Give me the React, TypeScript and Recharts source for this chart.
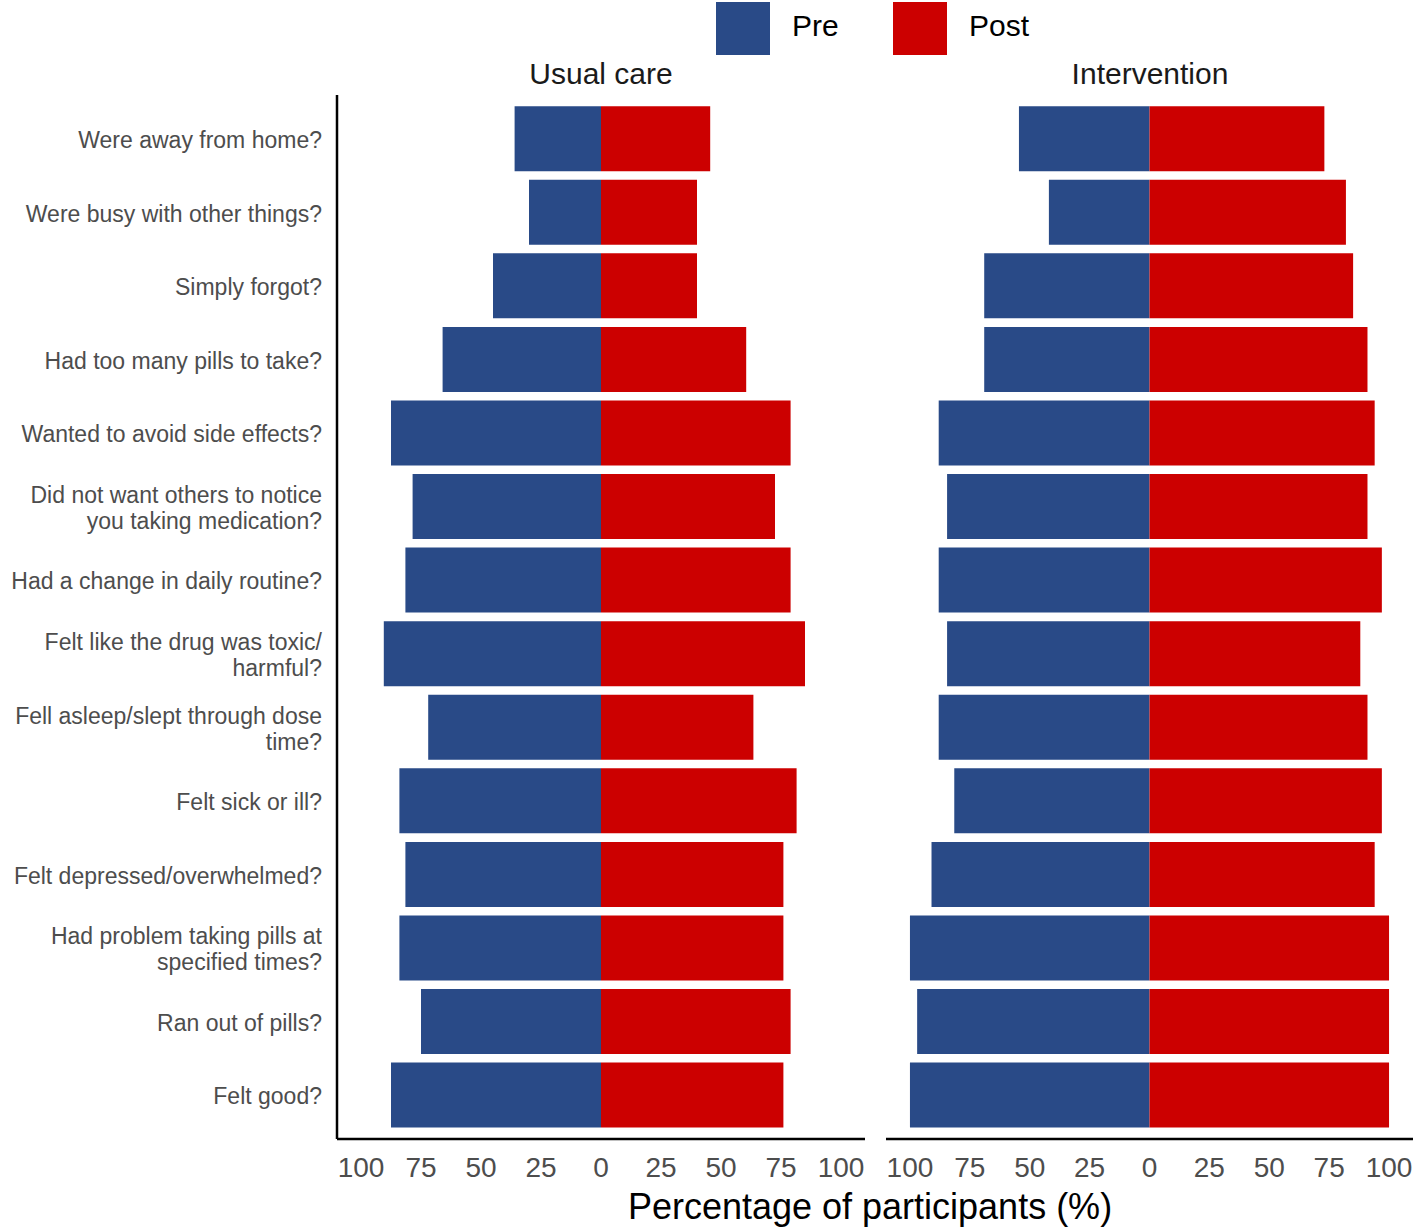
import React from 'react';
import { BarChart, Bar, XAxis, YAxis } from 'recharts';

const categories = [
  'Were away from home?',
  'Were busy with other things?',
  'Simply forgot?',
  'Had too many pills to take?',
  'Wanted to avoid side effects?',
  'Did not want others to notice\nyou taking medication?',
  'Had a change in daily routine?',
  'Felt like the drug was toxic/\nharmful?',
  'Fell asleep/slept through dose\ntime?',
  'Felt sick or ill?',
  'Felt depressed/overwhelmed?',
  'Had problem taking pills at\nspecified times?',
  'Ran out of pills?',
  'Felt good?',
];

const usualPre = [36, 30, 45, 66, 87.5, 78.5, 81.5, 90.5, 72, 84, 81.5, 84, 75, 87.5];
const usualPost = [45.5, 40, 40, 60.5, 79, 72.5, 79, 85, 63.5, 81.5, 76, 76, 79, 76];
const intPre = [54.5, 42, 69, 69, 88, 84.5, 88, 84.5, 88, 81.5, 91, 100, 97, 100];
const intPost = [73, 82, 85, 91, 94, 91, 97, 88, 91, 97, 94, 100, 100, 100];

const xTicks = [-100, -75, -50, -25, 0, 25, 50, 75, 100];
const panelTitles = ['Usual care', 'Intervention'];
const seriesNames = ['Pre', 'Post'];

const BLUE = '#294a87';
const RED = '#cc0000';
const FONT = '"Liberation Sans", Arial, Helvetica, sans-serif';

const usualData = categories.map((c, i) => ({ cat: c, pre: -usualPre[i], post: usualPost[i] }));
const intData = categories.map((c, i) => ({ cat: c, pre: -intPre[i], post: intPost[i] }));

const YTick = (props: any) => {
  const { x, y, payload } = props;
  const lines = String(payload.value).split('\n');
  const lh = 26;
  const start = -((lines.length - 1) * lh) / 2 + 1;
  return (
    <text x={x} y={y} textAnchor="end" fill="#4d4d4d" fontSize={23} fontFamily={FONT}>
      {lines.map((l, i) => (
        <tspan key={i} x={x} y={y + start + i * lh} dy="0.355em">
          {l}
        </tspan>
      ))}
    </text>
  );
};

const CHART_H = 1232;
const MARGIN = { top: 95, right: 0, bottom: 43, left: 0 };

function Panel({ data, showY, width }: { data: any[]; showY: boolean; width: number }) {
  return (
    <BarChart
      width={width}
      height={CHART_H}
      data={data}
      layout="vertical"
      stackOffset="sign"
      margin={MARGIN}
      barCategoryGap="5.7%"
    >
      <XAxis
        type="number"
        domain={[-110, 110]}
        ticks={xTicks}
        allowDataOverflow
        tickFormatter={(v: number) => String(Math.abs(v))}
        axisLine={{ stroke: '#000', strokeWidth: 2.5 }}
        tickLine={false}
        tickSize={6}
        tickMargin={12}
        height={50}
        tick={{ fill: '#4d4d4d', fontSize: 28, fontFamily: FONT }}
        interval={0}
      />
      <YAxis
        type="category"
        dataKey="cat"
        width={showY ? 337 : 0}
        hide={!showY}
        padding={{ top: 7, bottom: 7 }}
        axisLine={{ stroke: '#000', strokeWidth: 2.5 }}
        tickLine={false}
        tickMargin={9}
        tick={<YTick />}
        interval={0}
      />
      <Bar dataKey="pre" stackId="a" fill={BLUE} isAnimationActive={false} />
      <Bar dataKey="post" stackId="a" fill={RED} isAnimationActive={false} />
    </BarChart>
  );
}

export default function App() {
  return (
    <div
      style={{
        position: 'absolute',
        left: 0,
        top: 0,
        width: 1418,
        height: 1232,
        background: '#fff',
        overflow: 'hidden',
        fontFamily: FONT,
      }}
    >
      <div style={{ position: 'absolute', left: 0, top: 0 }}>
        <Panel data={usualData} showY={true} width={865} />
      </div>
      <div style={{ position: 'absolute', left: 886, top: 0 }}>
        <Panel data={intData} showY={false} width={527} />
      </div>
      <svg
        width={1418}
        height={1232}
        style={{ position: 'absolute', left: 0, top: 0, pointerEvents: 'none' }}
      >
        <rect x={716} y={2} width={54} height={53} fill={BLUE} />
        <text x={792} y={36} fontSize={30} fontFamily={FONT} fill="#000">
          {seriesNames[0]}
        </text>
        <rect x={893} y={2} width={54} height={53} fill={RED} />
        <text x={969} y={36} fontSize={30} fontFamily={FONT} fill="#000">
          {seriesNames[1]}
        </text>
        <text x={601} y={84} fontSize={30} fontFamily={FONT} fill="#1a1a1a" textAnchor="middle">
          {panelTitles[0]}
        </text>
        <text x={1150} y={84} fontSize={30} fontFamily={FONT} fill="#1a1a1a" textAnchor="middle">
          {panelTitles[1]}
        </text>
        <text x={870} y={1219} fontSize={36} fontFamily={FONT} fill="#000" textAnchor="middle">
          Percentage of participants (%)
        </text>
      </svg>
    </div>
  );
}
